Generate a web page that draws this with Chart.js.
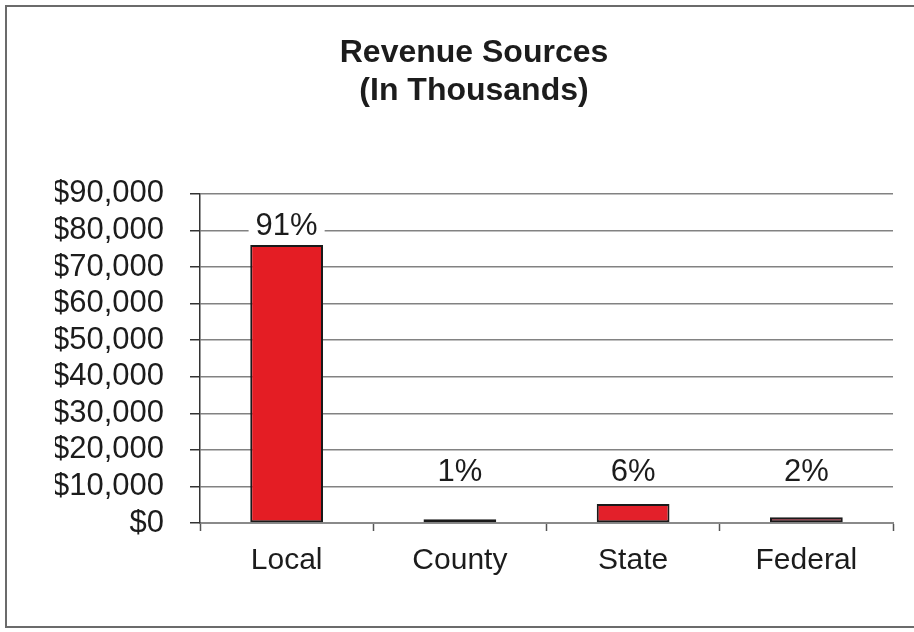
<!DOCTYPE html>
<html>
<head>
<meta charset="utf-8">
<script src="https://cdn.jsdelivr.net/npm/chart.js@4.4.1/dist/chart.umd.min.js"></script>
<style>
  html, body { margin: 0; padding: 0; background: #fff; overflow: hidden; }
  body { width: 914px; height: 632px; position: relative; }
  #frame {
    position: absolute; left: 5px; top: 5px; width: 960px; height: 623px;
    border: 2px solid #6b6b6b; box-sizing: border-box;
  }
  #wrap { position: absolute; left: 17px; top: 0; width: 914px; height: 632px; }
</style>
</head>
<body>
<div id="frame"></div>
<div id="wrap"><canvas id="c" width="914" height="632"></canvas></div>
<script>
// Revenue by source, in thousands of dollars
const categories = ['Local', 'County', 'State', 'Federal'];
const revenue = [76000, 1000, 5200, 1600];
const shareLabels = ['91%', '1%', '6%', '2%'];
const barColors = ['#e41d24', '#2e1b1e', '#e3202a', '#7c1c2b'];
const yMax = 90000;
const yStep = 10000;

const FONT = '"Liberation Sans", Arial, sans-serif';
const INK = '#1c1c1c';

// Writes the share of total above each bar on a white patch
const shareLabelPlugin = {
  id: 'shareLabels',
  afterDatasetsDraw(chart) {
    const ctx = chart.ctx;
    const meta = chart.getDatasetMeta(0);
    const yScale = chart.scales.y;
    const floor = yScale.getPixelForValue(0) - 51;
    ctx.save();
    ctx.font = '31px ' + FONT;
    ctx.textAlign = 'center';
    ctx.textBaseline = 'middle';
    meta.data.forEach((bar, i) => {
      const txt = shareLabels[i];
      const y = Math.min(bar.y - 19, floor);
      const w = ctx.measureText(txt).width + 14;
      ctx.fillStyle = '#fff';
      ctx.fillRect(bar.x - w / 2, y - 13, w, 25);
      ctx.fillStyle = INK;
      ctx.fillText(txt, bar.x, y);
    });
    ctx.restore();
  }
};

new Chart(document.getElementById('c'), {
  type: 'bar',
  data: {
    labels: categories,
    datasets: [{
      data: revenue,
      backgroundColor: barColors,
      borderColor: '#1a1a1a',
      borderWidth: 2,
      borderSkipped: false,
      categoryPercentage: 1,
      barPercentage: 0.42
    }]
  },
  options: {
    responsive: false,
    animation: false,
    layout: { padding: { left: 38, right: 38, top: 0, bottom: 41 } },
    plugins: {
      legend: { display: false },
      tooltip: { enabled: false },
      title: {
        display: true,
        text: ['Revenue Sources', '(In Thousands)'],
        color: INK,
        font: { family: FONT, size: 32, weight: 'bold', lineHeight: 1.2 },
        padding: { top: 34, bottom: 83 }
      }
    },
    scales: {
      x: {
        grid: {
          offset: true,
          drawOnChartArea: false,
          drawTicks: true,
          tickLength: 8,
          tickColor: '#555',
          tickWidth: 1.5
        },
        border: { display: true, color: '#8a8a8a', width: 2 },
        ticks: {
          color: INK,
          padding: 12,
          font: { family: FONT, size: 30 }
        }
      },
      y: {
        min: 0,
        max: yMax,
        afterFit(scale) { scale.width = 145; },
        grid: {
          color: '#828282',
          lineWidth: 1.5,
          drawTicks: true,
          tickLength: 10,
          tickColor: '#333',
          tickWidth: 1.5
        },
        border: { display: true, color: '#333', width: 1.5 },
        ticks: {
          stepSize: yStep,
          autoSkip: false,
          color: INK,
          padding: 26,
          font: { family: FONT, size: 31 },
          callback: v => '$' + v.toLocaleString('en-US')
        }
      }
    }
  },
  plugins: [shareLabelPlugin]
});
</script>
</body>
</html>
